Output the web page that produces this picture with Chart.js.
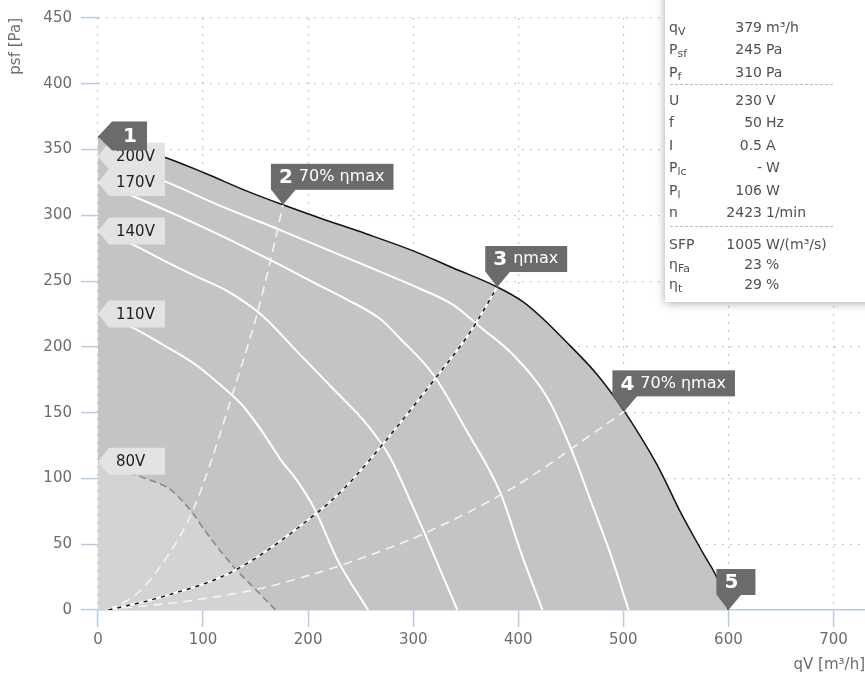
<!DOCTYPE html>
<html>
<head>
<meta charset="utf-8">
<script src="https://cdn.jsdelivr.net/npm/chart.js@4.4.1/dist/chart.umd.min.js"></script>
<style>
  html, body { margin: 0; padding: 0; background: #fff; }
  #wrap { position: relative; width: 865px; height: 679px; overflow: hidden; }
  #info {
    position: absolute; left: 665px; top: -10px; width: 230px;
    padding: 25.75px 0 8px 0; background: #fff;
    box-shadow: 0 1px 9px rgba(0,0,0,0.35);
    font: 14px "DejaVu Sans", sans-serif; color: #505050;
  }
  #info .row { position: relative; height: 22.5px; line-height: 22.5px; white-space: nowrap; }
  #info .row.s { height: 20px; line-height: 20px; }
  #info .k { position: absolute; left: 4px; top: 0; }
  #info .v { display: inline-block; width: 97px; text-align: right; }
  #info .u { margin-left: 4px; }
  #info sub { font-size: 0.78em; vertical-align: -0.3em; line-height: 0; }
  #info .sep { margin: 1px 0 3.5px 5px; width: 163px; border-top: 1px dashed #bbb; }
  #info .sep2 { margin: 2px 0 7px 5px; width: 163px; border-top: 1px dashed #bbb; }
</style>
</head>
<body>
<div id="wrap">
  <canvas id="myChart" width="865" height="679"></canvas>
  <div id="info">
    <div class="row"><span class="k">q<sub>V</sub></span><span class="v">379</span><span class="u">m³/h</span></div>
    <div class="row"><span class="k">P<sub>sf</sub></span><span class="v">245</span><span class="u">Pa</span></div>
    <div class="row"><span class="k">P<sub>f</sub></span><span class="v">310</span><span class="u">Pa</span></div>
    <div class="sep"></div>
    <div class="row"><span class="k">U</span><span class="v">230</span><span class="u">V</span></div>
    <div class="row"><span class="k">f</span><span class="v">50</span><span class="u">Hz</span></div>
    <div class="row"><span class="k">I</span><span class="v">0.5</span><span class="u">A</span></div>
    <div class="row"><span class="k">P<sub>lc</sub></span><span class="v">-</span><span class="u">W</span></div>
    <div class="row"><span class="k">P<sub>l</sub></span><span class="v">106</span><span class="u">W</span></div>
    <div class="row"><span class="k">n</span><span class="v">2423</span><span class="u">1/min</span></div>
    <div class="sep2"></div>
    <div class="row s"><span class="k">SFP</span><span class="v">1005</span><span class="u">W/(m³/s)</span></div>
    <div class="row s"><span class="k">η<sub>Fa</sub></span><span class="v">23</span><span class="u">%</span></div>
    <div class="row s"><span class="k">η<sub>t</sub></span><span class="v">29</span><span class="u">%</span></div>
  </div>
</div>
<script>
// fan curves, qV [m3/h] vs psf [Pa]
var q230 = [0, 30, 64, 102, 140, 176, 211, 255, 300, 338, 380, 405, 424, 443, 475, 501, 523, 535, 554, 576, 590, 600];
var p230 = [360, 352, 344, 332, 319, 308, 298, 286, 273, 260, 245.5, 234, 221, 206, 179, 151, 123, 106, 75, 43, 23, 0];

var q200 = [0, 66, 120, 173, 221, 269, 307, 338, 364, 395, 428, 450, 469, 488, 505];
var p200 = [345, 325, 306, 289, 273, 257, 244, 232, 215, 194, 161, 123, 83, 42, 0];

var q170 = [0, 29, 100, 169, 205, 237, 269, 288, 319, 351, 383, 402, 423];
var p170 = [325, 316, 291, 264, 249, 236, 221, 206, 179, 136, 89, 45, 0];

var q140 = [0, 35, 64, 95, 124, 156, 190, 224, 256, 278, 300, 310, 342];
var p140 = [288, 277, 265, 253, 242, 224, 196, 168, 141, 116, 78, 60, 0];

var q110 = [0, 32, 61, 92, 121, 137, 156, 175, 188, 206, 228, 257];
var p110 = [225, 215, 202, 187, 168, 156, 136, 113, 100, 77, 38, 0];

var q80 = [0, 38, 70, 80, 90, 102, 130, 152, 169];
var p80 = [113, 102, 91, 83, 74, 60, 32, 14, 0];

// efficiency lines
var qEffLeft = [10, 38, 61, 90, 111, 128, 150, 164, 176];
var pEffLeft = [0, 13, 35, 75, 121, 164, 221, 265, 308];

var qEffMax = [10, 61, 130, 207, 235, 271, 319, 354, 380];
var pEffMax = [0, 10, 30, 73, 93, 126, 174, 211, 245.5];

var qEffRight = [10, 26, 92, 156, 173, 237, 310, 395, 478, 501];
var pEffRight = [0, 1.5, 7.5, 16.6, 20, 35.5, 58, 93, 138, 151];

// numbered points
var markerNum = ['1', '2', '3', '4', '5'];
var markerText = ['', '70% ηmax', 'ηmax', '70% ηmax', ''];
var markerQ = [0, 176, 380, 501, 600];
var markerP = [360, 308, 245.5, 151, 0];

var voltLabels = ['200V', '170V', '140V', '110V', '80V'];
var voltStart = [p200[0], p170[0], p140[0], p110[0], p80[0]];

var xTicks = [0, 100, 200, 300, 400, 500, 600, 700];
var yTicks = [0, 50, 100, 150, 200, 250, 300, 350, 400, 450];

function pts(xs, ys) {
    return xs.map(function(v, i){ return {x: v, y: ys[i]}; });
}

var FONT = '"DejaVu Sans", sans-serif';

var labelPlugin = {
    id: 'labels',
    afterDatasetsDraw: function(chart) {
        var ctx = chart.ctx;
        var xs = chart.scales.x, ys = chart.scales.y;
        ctx.save();
        ctx.textBaseline = 'middle';

        // voltage tags
        voltLabels.forEach(function(t, i){
            var px = xs.getPixelForValue(0);
            var py = ys.getPixelForValue(voltStart[i]);
            ctx.fillStyle = '#e3e3e3';
            ctx.beginPath();
            ctx.moveTo(px, py);
            ctx.lineTo(px + 11, py - 13.5);
            ctx.lineTo(px + 67, py - 13.5);
            ctx.lineTo(px + 67, py + 13.5);
            ctx.lineTo(px + 11, py + 13.5);
            ctx.closePath();
            ctx.fill();
            ctx.fillStyle = '#1e1e1e';
            ctx.font = '15px ' + FONT;
            ctx.textAlign = 'left';
            ctx.fillText(t, px + 18, py + 1);
        });

        // numbered callouts
        markerNum.forEach(function(n, i){
            var px = xs.getPixelForValue(markerQ[i]);
            var py = ys.getPixelForValue(markerP[i]);
            ctx.fillStyle = '#6b6b6b';
            if (i === 0) {
                ctx.beginPath();
                ctx.moveTo(px, py);
                ctx.lineTo(px + 14, py - 15);
                ctx.lineTo(px + 49, py - 15);
                ctx.lineTo(px + 49, py + 14);
                ctx.lineTo(px + 14, py + 14);
                ctx.closePath();
                ctx.fill();
                ctx.fillStyle = '#fff';
                ctx.font = 'bold 20px ' + FONT;
                ctx.textAlign = 'center';
                ctx.fillText(n, px + 32, py);
                return;
            }
            ctx.font = 'bold 20px ' + FONT;
            var wn = ctx.measureText(n).width;
            ctx.font = '16px ' + FONT;
            var wt = markerText[i] ? ctx.measureText(markerText[i]).width : 0;
            var w = markerText[i] ? 8 + wn + 6 + wt + 9 : 39;
            var left = px - 12, bottom = py - 15, top = bottom - 26;
            ctx.fillStyle = '#6b6b6b';
            ctx.fillRect(left, top, w, 26);
            ctx.beginPath();
            ctx.moveTo(left, bottom - 0.5);
            ctx.lineTo(left + 25, bottom - 0.5);
            ctx.lineTo(px, py);
            ctx.closePath();
            ctx.fill();
            ctx.fillStyle = '#fff';
            ctx.textAlign = 'left';
            ctx.font = 'bold 20px ' + FONT;
            ctx.fillText(n, left + 8, top + 14);
            if (markerText[i]) {
                ctx.font = '16px ' + FONT;
                ctx.fillText(markerText[i], left + 8 + wn + 6, top + 13);
            }
        });
        ctx.restore();
    }
};

var ctx = document.getElementById('myChart').getContext('2d');

var lineBase = { pointRadius: 0, cubicInterpolationMode: 'monotone', fill: false };

var myChart = new Chart(ctx, {
    type: 'line',
    data: {
        datasets: [
            Object.assign({}, lineBase, { label: '230V', data: pts(q230, p230), borderColor: '#111', borderWidth: 1.5,
                fill: 'origin', backgroundColor: '#c4c4c4', order: 10 }),
            Object.assign({}, lineBase, { label: '80V', data: pts(q80, p80), borderColor: '#8a8a8a', borderWidth: 1.6,
                borderDash: [7, 4], fill: 'origin', backgroundColor: '#d3d3d3', order: 9 }),
            Object.assign({}, lineBase, { label: '110V', data: pts(q110, p110), borderColor: '#fff', borderWidth: 2, order: 8 }),
            Object.assign({}, lineBase, { label: '140V', data: pts(q140, p140), borderColor: '#fff', borderWidth: 2, order: 8 }),
            Object.assign({}, lineBase, { label: '170V', data: pts(q170, p170), borderColor: '#fff', borderWidth: 2, order: 8 }),
            Object.assign({}, lineBase, { label: '200V', data: pts(q200, p200), borderColor: '#fff', borderWidth: 2, order: 8 }),
            Object.assign({}, lineBase, { label: '70% left', data: pts(qEffLeft, pEffLeft), borderColor: '#f4f4f4', borderWidth: 1.6,
                borderDash: [9, 6], order: 7 }),
            Object.assign({}, lineBase, { label: '70% right', data: pts(qEffRight, pEffRight), borderColor: '#f4f4f4', borderWidth: 1.6,
                borderDash: [9, 6], order: 7 }),
            Object.assign({}, lineBase, { label: 'max base', data: pts(qEffMax, pEffMax), borderColor: '#fff', borderWidth: 2.2, order: 6 }),
            Object.assign({}, lineBase, { label: 'max', data: pts(qEffMax, pEffMax), borderColor: '#111', borderWidth: 1.5,
                borderDash: [4, 5], order: 5 })
        ]
    },
    options: {
        responsive: false,
        animation: false,
        layout: { padding: { top: 15, right: 0, left: 0, bottom: 0 } },
        plugins: { legend: { display: false }, tooltip: { enabled: false } },
        scales: {
            x: {
                type: 'linear', min: 0, max: 730,
                afterFit: function(s){ s.height = 69; },
                afterBuildTicks: function(s){ s.ticks = xTicks.map(function(v){ return {value: v}; }); },
                ticks: { color: '#6c6c6c', font: { family: FONT, size: 15 }, padding: 4, maxRotation: 0 },
                grid: { color: '#c9c9c9', lineWidth: 1.2, tickColor: '#b9cbe0', tickLength: 17, tickWidth: 1.5, tickBorderDash: [] },
                border: { display: true, color: '#b9cbe0', width: 1.5, dash: [2, 6] },
                title: { display: true, text: 'qV [m³/h]', align: 'end', color: '#6c6c6c',
                    font: { family: FONT, size: 15 }, padding: { top: 0, bottom: 5 } }
            },
            y: {
                type: 'linear', min: 0, max: 450,
                afterFit: function(s){ s.width = 98; },
                afterBuildTicks: function(s){ s.ticks = yTicks.map(function(v){ return {value: v}; }); },
                ticks: { color: '#6c6c6c', font: { family: FONT, size: 15 }, padding: 9 },
                grid: { color: '#c9c9c9', lineWidth: 1.2, tickColor: '#b9cbe0', tickLength: 17, tickWidth: 1.5, tickBorderDash: [] },
                border: { display: false, dash: [2, 6] },
                title: { display: true, text: 'psf [Pa]', align: 'end', color: '#6c6c6c',
                    font: { family: FONT, size: 15 }, padding: { top: 7, bottom: 0 } }
            }
        }
    },
    plugins: [labelPlugin]
});
</script>
</body>
</html>
